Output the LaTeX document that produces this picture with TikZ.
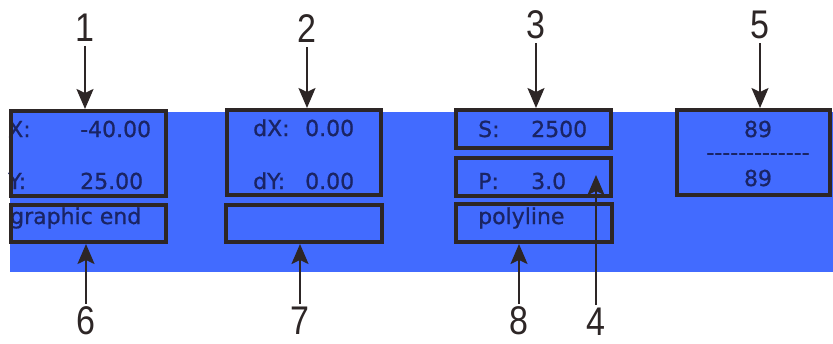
\documentclass[tikz,border=0pt]{standalone}
\usepackage{fontspec}
\newfontfamily\fieldfont[FakeBold=0.8]{DejaVu Sans}
\newfontfamily\labelfont[FakeStretch=0.85]{Liberation Sans}
\usetikzlibrary{arrows.meta,positioning}
\definecolor{panelblue}{RGB}{66,107,255}
\definecolor{boxline}{RGB}{45,38,38}
\definecolor{boxtext}{RGB}{26,36,100}
\begin{document}
\begin{tikzpicture}[x=1pt,y=-1pt,
  field/.style={draw=boxline,line width=4pt,inner sep=0pt},
  ftext/.style={anchor=base west,inner sep=0pt,text=boxtext,font=\fieldfont\fontsize{22}{26}\selectfont},
  num/.style={inner sep=0pt,text=boxline,font=\labelfont\fontsize{40}{42}\selectfont},
  pointer/.style={-{Stealth[length=20pt,width=17pt,inset=4pt]},line width=2pt,draw=boxline}]
\useasboundingbox (0,0) rectangle (833,343);
\fill[panelblue] (10,112) rectangle (833,272);
% texts inside the fields
\node[ftext] (tx) at (8,137) {X:};
\node[ftext] (txv) at (80,137) {-40.00};
\node[ftext] (ty) at (8,189) {Y:};
\node[ftext] (tyv) at (80,189) {25.00};
\node[ftext] (tmode) at (10,224) {graphic end};
\node[ftext] (tdx) at (253,136) {dX:};
\node[ftext] (tdxv) at (305,136) {0.00};
\node[ftext] (tdy) at (253,189) {dY:};
\node[ftext] (tdyv) at (305,189) {0.00};
\node[ftext] (ts) at (478,137) {S:};
\node[ftext] (tsv) at (531,137) {2500};
\node[ftext] (tp) at (478,189) {P:};
\node[ftext] (tpv) at (531,189) {3.0};
\node[ftext] (ttype) at (478,224) {polyline};
\node[ftext,anchor=base] (tc1) at (758,137) {89};
\node[ftext,anchor=base] (tsep) at (758,160) {-------------};
\node[ftext,anchor=base] (tc2) at (758,186) {89};
% fields
\node[field,minimum width=155pt,minimum height=85pt] (bxy) at (88.5,153.5) {};
\node[field,minimum width=155pt,minimum height=37pt] (bmode) at (88.5,223.5) {};
\node[field,minimum width=154pt,minimum height=85pt] (bdelta) at (304,152.5) {};
\node[field,minimum width=156pt,minimum height=37pt] (bempty) at (304,223.5) {};
\node[field,minimum width=155pt,minimum height=38pt] (bscale) at (533.5,129) {};
\node[field,minimum width=155pt,minimum height=38pt] (bpen) at (533.5,177) {};
\node[field,minimum width=156pt,minimum height=38pt] (btype) at (534,223) {};
\node[field,minimum width=153pt,minimum height=85pt] (bcount) at (753.5,152.5) {};
% callout numbers
\node[num] (n1) at (85,28) {1};
\node[num] (n2) at (307,29) {2};
\node[num] (n3) at (536,25) {3};
\node[num] (n5) at (760,25) {5};
\node[num] (n6) at (86,321) {6};
\node[num] (n7) at (300,321) {7};
\node[num] (n8) at (519,321) {8};
\node[num] (n4) at (596,322) {4};
\coordinate (p4) at (596,175);
\draw[pointer] ([yshift=-4pt]n1.south) -- (n1.south |- bxy.north);
\draw[pointer] ([yshift=-4pt]n2.south) -- (n2.south |- bdelta.north);
\draw[pointer] ([yshift=-4pt]n3.south) -- (n3.south |- bscale.north);
\draw[pointer] ([yshift=-4pt]n5.south) -- (n5.south |- bcount.north);
\draw[pointer] ([yshift=3pt]n6.north) -- (n6.north |- bmode.south);
\draw[pointer] ([yshift=3pt]n7.north) -- (n7.north |- bempty.south);
\draw[pointer] ([yshift=3pt]n8.north) -- (n8.north |- btype.south);
\draw[pointer] ([yshift=3pt]n4.north) -- (p4);
\end{tikzpicture}
\end{document}
